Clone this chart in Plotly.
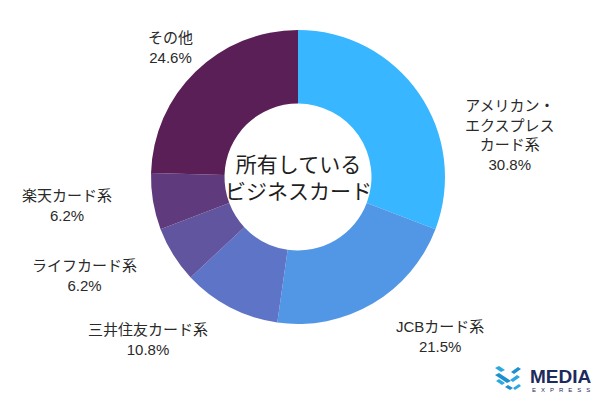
import plotly.graph_objects as go

W, H = 591, 399

categories = ["アメリカン・エクスプレスカード系", "JCBカード系", "三井住友カード系",
              "ライフカード系", "楽天カード系", "その他"]
values = [30.8, 21.5, 10.8, 6.2, 6.2, 24.6]
label_texts = ["アメリカン・<br>エクスプレス<br>カード系<br>30.8%",
               "JCBカード系<br>21.5%",
               "三井住友カード系<br>10.8%",
               "ライフカード系<br>6.2%",
               "楽天カード系<br>6.2%",
               "その他<br>24.6%"]
colors = ["#38B6FF", "#5197E5", "#5E74C6", "#62559F", "#5F3B7D", "#5A1F56"]
center_title = "所有している<br>ビジネスカード"

# label anchor positions in pixels (center x, center y)
label_pos = [(510, 135), (440, 336), (148, 339), (84, 275), (67, 205), (170, 47)]

FONT = "Liberation Sans, Noto Sans CJK JP, sans-serif"

cx, cy, r = 298, 177, 147

fig = go.Figure(go.Pie(
    labels=categories, values=values, sort=False, direction="clockwise",
    rotation=0, hole=0.5, textinfo="none", hoverinfo="label+percent",
    marker=dict(colors=colors, line=dict(width=0)),
    domain=dict(x=[(cx - r) / W, (cx + r) / W], y=[1 - (cy + r) / H, 1 - (cy - r) / H]),
    showlegend=False,
))

annotations = []
for t, (px, py) in zip(label_texts, label_pos):
    annotations.append(dict(
        text=t, x=px / W, y=1 - py / H, xref="paper", yref="paper",
        showarrow=False, xanchor="center", yanchor="middle", align="center",
        font=dict(family=FONT, size=15, color="#2a2a2a"),
    ))

annotations.append(dict(
    text=center_title, x=cx / W, y=1 - 178 / H, xref="paper", yref="paper",
    showarrow=False, xanchor="center", yanchor="middle", align="center",
    font=dict(family=FONT, size=21, color="#1e1e1e"),
))

# logo text
annotations.append(dict(
    text="MEDIA", x=528 / W, y=1 - 376 / H, xref="paper", yref="paper",
    showarrow=False, xanchor="left", yanchor="middle",
    font=dict(family="Liberation Sans, sans-serif", size=19, color="#1d2a5c", weight=600),
))
annotations.append(dict(
    text="E   X   P   R   E   S   S", x=530 / W, y=1 - 390 / H, xref="paper", yref="paper",
    showarrow=False, xanchor="left", yanchor="middle",
    font=dict(family="Liberation Sans, sans-serif", size=6, color="#1d2a5c"),
))


def poly(pts, color):
    d = "M " + " L ".join(f"{x / W:.5f},{1 - y / H:.5f}" for x, y in pts) + " Z"
    return dict(type="path", path=d, xref="paper", yref="paper",
                fillcolor=color, line=dict(width=0))


shapes = [
    poly([(495, 368), (499, 366), (505, 370), (501, 372)], "#2AA8E0"),
    poly([(495, 375), (499, 373), (511, 381), (507, 383)], "#1C8FD0"),
    poly([(496, 381), (499, 379), (505, 383), (502, 385)], "#2AA8E0"),
    poly([(505, 387), (508, 385), (513, 388), (510, 390)], "#1C8FD0"),
    poly([(511, 372), (518, 367), (521, 369), (514, 374)], "#1C8FD0"),
    poly([(510, 380), (517, 375), (520, 377), (513, 382)], "#2AA8E0"),
    poly([(513, 388), (519, 384), (521, 386), (515, 390)], "#2AA8E0"),
]

fig.update_layout(
    width=W, height=H, margin=dict(l=0, r=0, t=0, b=0),
    paper_bgcolor="white", plot_bgcolor="white",
    annotations=annotations, shapes=shapes,
)

fig.write_html("out.html", config={"displayModeBar": False},
               post_script="document.body.style.margin='0';document.body.style.padding='0';document.body.style.overflow='hidden';")
